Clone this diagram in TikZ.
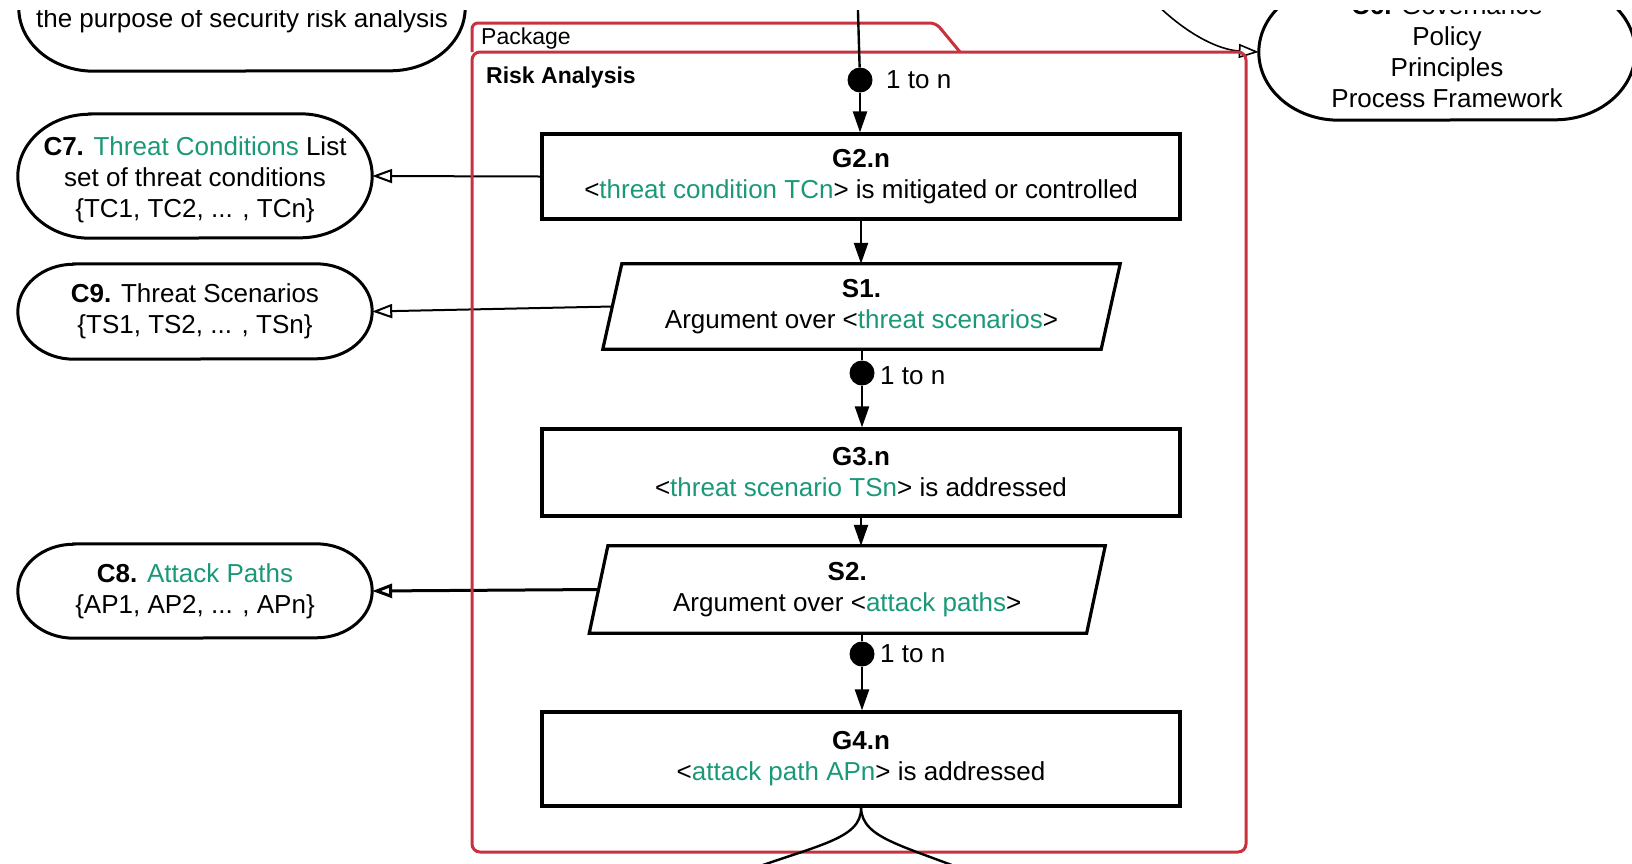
\documentclass[tikz,border=0pt]{standalone}
\usepackage{fontspec}
\setmainfont{Liberation Sans}
\usetikzlibrary{arrows.meta}
\definecolor{tealg}{RGB}{26,152,120}
\definecolor{pkgred}{RGB}{200,50,62}
\newcommand\ctxpath[3]{%
  \draw[ctxline] ([xshift=#2pt]#1.north west) -- ([xshift=-#2pt]#1.north east)
    arc[start angle=90,end angle=-90,x radius=#2pt,y radius=#3pt]
    -- ([xshift=#2pt]#1.south west)
    arc[start angle=270,end angle=90,x radius=#2pt,y radius=#3pt] -- cycle;}
\begin{document}
\begin{tikzpicture}[x=1pt,y=-1pt,
  txt/.style={font=\fontsize{26}{31}\selectfont, align=center, inner sep=0pt},
  goal/.style={txt, draw, line width=3.2pt, rectangle, minimum width=638pt},
  ctxbox/.style={txt, minimum width=354pt},
  ctxline/.style={line width=3pt},
  boxline/.style={line width=3.2pt, line join=miter},
  conn/.style={line width=2.4pt},
  arrowf/.style={-{Triangle[length=21pt,width=14pt]}},
  ctxarrow/.style={line width=2pt, -{Triangle[open,length=20pt,width=14pt]}},
  pkgline/.style={draw=pkgred, line width=3pt},
  dotn/.style={circle, fill=black, inner sep=0pt, minimum size=25pt},
  lbl/.style={font=\fontsize{26}{31}\selectfont, inner sep=0pt, anchor=west}
]
\useasboundingbox (0,0) rectangle (1632,863);
\clip (0,10) rectangle (1632,863);

% context nodes
\node[ctxbox, minimum width=446pt, minimum height=126pt] (C5) at (242,8) {};
\node[txt] (C5t) at (242,21) {the purpose of security risk analysis};
\ctxpath{C5}{75}{63}

\node[ctxbox, minimum width=376pt, minimum height=136pt] (C6) at (1447,52)
  {\textbf{C6.} Governance\\Policy\\Principles\\Process Framework};
\ctxpath{C6}{80}{68}

\node[ctxbox, minimum height=124pt] (C7) at (195,176)
  {\rule{0pt}{27pt}\textbf{C7.} \textcolor{tealg}{Threat Conditions} List\\set of threat conditions\\\{TC1, TC2, ... , TCn\}};
\ctxpath{C7}{72}{62}

\node[ctxbox, minimum height=95pt] (C9) at (195,311.5)
  {\textbf{C9.} Threat Scenarios\\\{TS1, TS2, ... , TSn\}};
\ctxpath{C9}{56}{47.5}

\node[ctxbox, minimum height=94pt] (C8) at (195,591)
  {\textbf{C8.} \textcolor{tealg}{Attack Paths}\\\{AP1, AP2, ... , APn\}};
\ctxpath{C8}{56}{47}

% goals
\node[goal, minimum height=85pt] (G2) at (861,176.5)
  {\textbf{G2.n}\\<\textcolor{tealg}{threat condition TCn}> is mitigated or controlled};
\node[goal, minimum height=87pt] (G3) at (861,472.5)
  {\textbf{G3.n}\\<\textcolor{tealg}{threat scenario TSn}> is addressed};
\node[goal, minimum height=94pt] (G4) at (861,759)
  {\textbf{G4.n}\\<\textcolor{tealg}{attack path APn}> is addressed};

% strategies
\node[txt, minimum width=498pt, minimum height=85pt] (S1) at (861.5,306.5)
  {\textbf{S1.}\\Argument over <\textcolor{tealg}{threat scenarios}>};
\draw[boxline] ([xshift=9.5pt]S1.north west) -- ([xshift=9.5pt]S1.north east)
  -- ([xshift=-9.5pt]S1.south east) -- ([xshift=-9.5pt]S1.south west) -- cycle;
\node[txt, minimum width=497pt, minimum height=87pt] (S2) at (847.25,589.5)
  {\textbf{S2.}\\Argument over <\textcolor{tealg}{attack paths}>};
\draw[boxline] ([xshift=9.3pt]S2.north west) -- ([xshift=9.3pt]S2.north east)
  -- ([xshift=-9.3pt]S2.south east) -- ([xshift=-9.3pt]S2.south west) -- cycle;

% context connectors
\draw[ctxarrow] (G2.west) -- (C7.east);
\draw[ctxarrow] (S1.west) -- (C9.east);
\draw[ctxarrow, line width=3pt] (S2.west) -- (C8.east);
\coordinate (c6in) at (1138,-15);
\draw[ctxarrow, line width=1.6pt] (c6in) .. controls (1182,35) and (1220,50) .. (C6.west);

% package frame
\draw[pkgline, rounded corners=6pt] (472,52) -- (472,23) -- (936,23) -- (960,52);
\draw[pkgline, rounded corners=8pt] (472,52) rectangle (1246,852);
\node[inner sep=0pt, anchor=west, font=\fontsize{23}{27}\selectfont] (pkg) at (481,38.5) {Package};
\node[inner sep=0pt, anchor=west, font=\fontsize{23}{27}\selectfont\bfseries] (ra) at (486,78) {Risk Analysis};

% multiplicity dots
\node[dotn] (d1) at (860,80) {};
\node[lbl] (l1) at (886,80) {1 to n};
\node[dotn] (d2) at (862,373) {};
\node[lbl] (l2) at (880,376) {1 to n};
\node[dotn] (d3) at (862,654) {};
\node[lbl] (l3) at (880,654) {1 to n};

% vertical connectors
\coordinate (topin) at (857.5,-5);
\draw[conn] (topin) -- (d1);
\draw[conn, arrowf] (d1) -- (d1 |- G2.north);
\draw[conn, arrowf] (G2.south) -- (G2.south |- S1.north);
\draw[conn] (d2 |- S1.south) -- (d2);
\draw[conn, arrowf] (d2) -- (d2 |- G3.north);
\draw[conn, arrowf] (G3.south) -- (G3.south |- S2.north);
\draw[conn] (d3 |- S2.south) -- (d3);
\draw[conn, arrowf] (d3) -- (d3 |- G4.north);

% outgoing curves below G4
\coordinate (bl) at (735,875);
\coordinate (br) at (990,880);
\draw[conn] (G4.south) .. controls (862,840) and (815,845) .. (bl);
\draw[conn] (G4.south) .. controls (862,840) and (905,845) .. (br);
\end{tikzpicture}
\end{document}
